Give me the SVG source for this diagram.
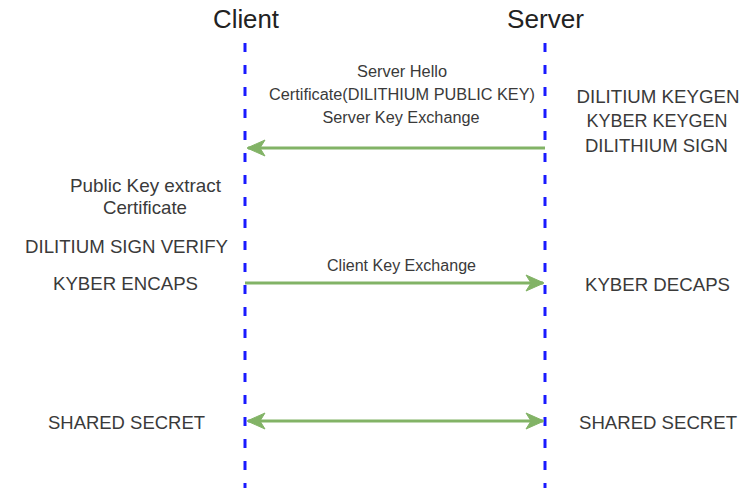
<svg xmlns="http://www.w3.org/2000/svg" width="750" height="490" viewBox="0 0 750 490">
<style>
.lifeline{stroke:#1a1aff;stroke-width:3;stroke-dasharray:9 13;fill:none}
.msg{stroke:#82b366;stroke-width:3;fill:none}
.t{font-family:"Liberation Sans",Arial,sans-serif;fill:#3a3a3a;text-anchor:middle}
.head{font-size:25px;fill:#222}
.s{font-size:16px}
.m{font-size:19px}
</style>
<defs>
<marker id="ah" viewBox="0 0 20 18" refX="18" refY="9" markerWidth="20" markerHeight="18" markerUnits="userSpaceOnUse" orient="auto-start-reverse">
<path d="M1,1 L19,9 L1,17 L6,9 Z" fill="#82b366" stroke="#82b366" stroke-width="1" stroke-linejoin="round"/>
</marker>
</defs>
<rect width="750" height="490" fill="#fff"/>
<g id="client">
<text class="t head" x="246" y="28" textLength="66" lengthAdjust="spacingAndGlyphs">Client</text>
<line class="lifeline" x1="245" y1="43" x2="245" y2="488"/>
</g>
<g id="server">
<text class="t head" x="545.5" y="28" textLength="77" lengthAdjust="spacingAndGlyphs">Server</text>
<line class="lifeline" x1="545" y1="43" x2="545" y2="488"/>
</g>
<g id="connectors">
<line class="msg" x1="545" y1="148" x2="248" y2="148" marker-end="url(#ah)"/>
<line class="msg" x1="245" y1="283" x2="543" y2="283" marker-end="url(#ah)"/>
<line class="msg" x1="248" y1="421" x2="543" y2="421" marker-start="url(#ah)" marker-end="url(#ah)"/>
</g>
<g id="server-hello-labels">
<text class="t s" x="402" y="77" textLength="90" lengthAdjust="spacingAndGlyphs">Server Hello</text>
<text class="t s" x="402" y="99.5" textLength="266" lengthAdjust="spacingAndGlyphs">Certificate(DILITHIUM PUBLIC KEY)</text>
<text class="t s" x="401" y="123" textLength="157" lengthAdjust="spacingAndGlyphs">Server Key Exchange</text>
</g>
<g id="server-ops">
<text class="t m" x="658" y="102.5" textLength="163" lengthAdjust="spacingAndGlyphs">DILITIUM KEYGEN</text>
<text class="t m" x="657" y="127" textLength="141" lengthAdjust="spacingAndGlyphs">KYBER KEYGEN</text>
<text class="t m" x="656.5" y="152" textLength="143" lengthAdjust="spacingAndGlyphs">DILITHIUM SIGN</text>
</g>
<g id="client-ops">
<text class="t m" x="145.5" y="192" textLength="151" lengthAdjust="spacingAndGlyphs">Public Key extract</text>
<text class="t m" x="145" y="213.5" textLength="84" lengthAdjust="spacingAndGlyphs">Certificate</text>
<text class="t m" x="126.5" y="253" textLength="203" lengthAdjust="spacingAndGlyphs">DILITIUM SIGN VERIFY</text>
<text class="t m" x="125.5" y="290" textLength="145" lengthAdjust="spacingAndGlyphs">KYBER ENCAPS</text>
</g>
<g id="client-key-exchange">
<text class="t s" x="401.5" y="270.5" textLength="149" lengthAdjust="spacingAndGlyphs">Client Key Exchange</text>
</g>
<g id="kyber-decaps">
<text class="t m" x="657.5" y="290.5" textLength="145" lengthAdjust="spacingAndGlyphs">KYBER DECAPS</text>
</g>
<g id="shared-client">
<text class="t m" x="126.5" y="429" textLength="157" lengthAdjust="spacingAndGlyphs">SHARED SECRET</text>
</g>
<g id="shared-server">
<text class="t m" x="658" y="429" textLength="158" lengthAdjust="spacingAndGlyphs">SHARED SECRET</text>
</g>
</svg>
